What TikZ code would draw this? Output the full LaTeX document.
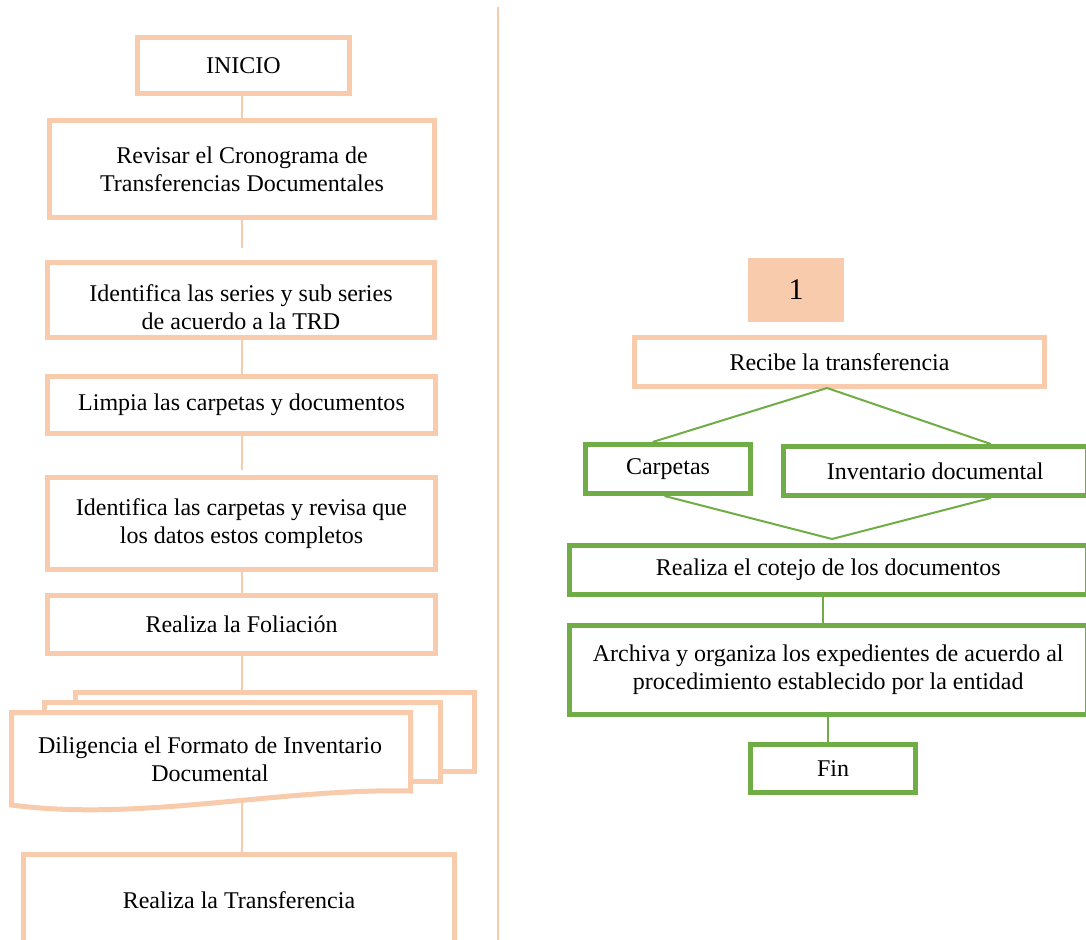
\documentclass[tikz,border=0pt]{standalone}
\usepackage{fontspec}
\setmainfont{Liberation Serif}
\usetikzlibrary{calc}
\definecolor{peach}{HTML}{F8CBAD}
\definecolor{leaf}{HTML}{70AD47}
\begin{document}
\begin{tikzpicture}[x=0.5pt,y=-0.5pt,
  font=\fontsize{12}{14}\selectfont,
  pbox/.style={draw=peach,line width=2.5pt,fill=white,inner sep=0pt,align=center},
  gbox/.style={draw=leaf,line width=2.5pt,fill=white,inner sep=0pt,align=center},
  plink/.style={draw=peach,line width=1pt},
  glink/.style={draw=leaf,line width=1pt},
  sheet/.style={draw=peach,line width=2.5pt,fill=white,line join=miter}]
\clip (0,0) rectangle (1086,940);
\fill[white] (0,0) rectangle (1086,940);

% divider between the two columns
\coordinate (divtop) at (497.7,7);
\coordinate (divbot) at (497.7,945);
\draw[plink] (divtop) -- (divbot);

% ---------- left column ----------
\coordinate (spine) at (242,0);
\node[pbox,minimum width=106pt,minimum height=28pt] (inicio) at (243.5,65.5) {INICIO};
\node[pbox,minimum width=192.5pt,minimum height=48.5pt] (revisar) at (242,169)
  {Revisar el Cronograma de\\Transferencias Documentales};
\node[pbox,minimum width=193.5pt,minimum height=37.5pt] (series) at (241,300) {};
\node[align=center,inner sep=0pt] (seriestxt) at (241,307)
  {Identifica las series y sub series\\de acuerdo a la TRD};
\node[pbox,minimum width=194pt,minimum height=28.5pt] (limpia) at (241.5,405)
  {Limpia las carpetas y documentos};
\node[pbox,minimum width=194pt,minimum height=46pt] (idcarp) at (241.5,523.5)
  {Identifica las carpetas y revisa que\\los datos estos completos};
\node[pbox,minimum width=194pt,minimum height=29pt] (folia) at (241.5,624.5)
  {Realiza la Foliación};

% stacked documents
\draw[sheet] (75.5,692.5) rectangle (474.5,771.5);
\draw[sheet] (44.5,702.5) rectangle (440.5,781.5);
\draw[sheet] (11.5,712.5) -- (410.5,712.5) -- (410.5,791)
  .. controls (280,788) and (140,822) .. (11.5,805) -- cycle;
\node[align=center,inner sep=0pt] (dilig) at (210,759)
  {Diligencia el Formato de Inventario\\Documental};
\coordinate (multitop) at (242,692.5);
\coordinate (multibot) at (242,803);

\node[pbox,minimum width=215.5pt,minimum height=52.5pt] (transf) at (239,907) {};
\node[inner sep=0pt] (transftxt) at (239,900) {Realiza la Transferencia};

% left connectors, all on one vertical line
\draw[plink] (inicio.south -| spine) -- (revisar.north -| spine);
\draw[plink] (revisar.south -| spine) -- ($(series.north -| spine)+(0,-12)$);
\draw[plink] (series.south -| spine) -- (limpia.north -| spine);
\draw[plink] (limpia.south -| spine) -- ($(idcarp.north -| spine)+(0,-5)$);
\draw[plink] (idcarp.south -| spine) -- (folia.north -| spine);
\draw[plink] (folia.south -| spine) -- (multitop);
\draw[plink] (multibot) -- (transf.north -| spine);

% ---------- right column ----------
\node[fill=peach,minimum width=48pt,minimum height=32pt,inner sep=0pt,
  font=\fontsize{15}{17}\selectfont] (uno) at (796,290) {1};
\node[pbox,minimum width=205pt,minimum height=24.5pt] (recibe) at (839.5,362)
  {Recibe la transferencia};
\node[gbox,minimum width=82.5pt,minimum height=24.5pt] (carp) at (668,469) {Carpetas};
\node[gbox,minimum width=151.75pt,minimum height=24.5pt] (inv) at (935.25,471)
  {Inventario documental};
\node[gbox,minimum width=258.75pt,minimum height=24.5pt] (cotejo) at (828.25,570)
  {Realiza el cotejo de los documentos};
\node[gbox,minimum width=258.75pt,minimum height=44.5pt] (archiva) at (828.25,670)
  {Archiva y organiza los expedientes de acuerdo al\\procedimiento establecido por la entidad};
\node[gbox,minimum width=82.5pt,minimum height=24pt] (fin) at (833,768.5) {Fin};

% right connectors
\coordinate (split) at (827,388);
\coordinate (join) at (832,539);
\coordinate (axisA) at (823,0);
\coordinate (axisB) at (828,0);
\draw[glink] (split) -- ($(carp.north west)!0.41!(carp.north east)$);
\draw[glink] (split) -- ($(inv.north west)!0.68!(inv.north east)$);
\draw[glink] ($(carp.south west)!0.48!(carp.south east)$) -- (join);
\draw[glink] ($(inv.south west)!0.68!(inv.south east)$) -- (join);
\draw[glink] (cotejo.south -| axisA) -- (archiva.north -| axisA);
\draw[glink] (archiva.south -| axisB) -- (fin.north -| axisB);
\end{tikzpicture}
\end{document}
